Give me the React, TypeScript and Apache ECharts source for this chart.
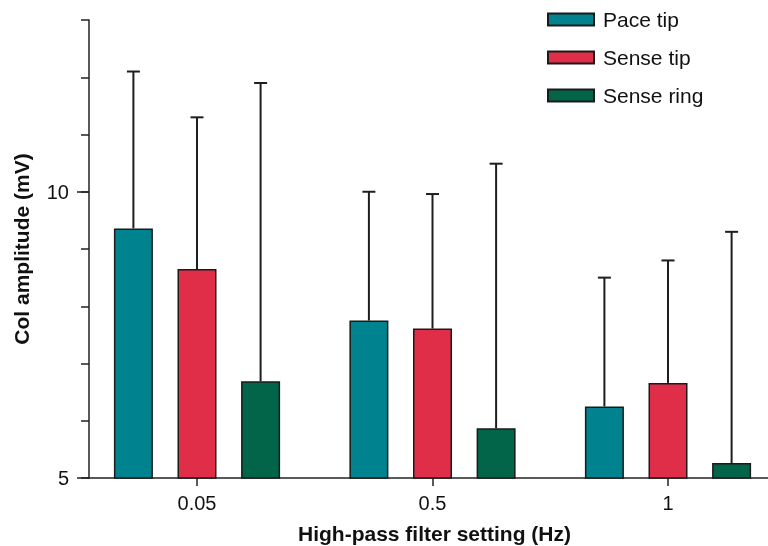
import React, { useEffect, useRef } from "react";
import * as echarts from "echarts";

const categories = ["0.05", "0.5", "1"];
const seriesNames = ["Pace tip", "Sense tip", "Sense ring"];
const paceTip = [9.36, 7.75, 6.25];
const senseTip = [8.65, 7.61, 6.66];
const senseRing = [6.69, 5.87, 5.26];
const paceTipUpper = [12.1, 10.0, 8.5];
const senseTipUpper = [11.3, 9.96, 8.8];
const senseRingUpper = [11.9, 10.49, 9.3];
const yTickLabels = [5, 10];

const colors = ["#00838f", "#e02d48", "#02654a"];
const FONT = "'Liberation Sans', Arial, Helvetica, sans-serif";
const BAR_WIDTH = 39;
const BAR_GAP_PX = 24.6;

export default function App() {
  const ref = useRef<HTMLDivElement>(null);
  useEffect(() => {
    if (!ref.current) return;
    const chart = echarts.init(ref.current, undefined, { renderer: "svg" });
    const values = [paceTip, senseTip, senseRing];
    const uppers = [paceTipUpper, senseTipUpper, senseRingUpper];
    const step = BAR_WIDTH + BAR_GAP_PX;

    const barSeries = seriesNames.map((name, i) => ({
      name,
      type: "bar",
      xAxisIndex: 0,
      yAxisIndex: 0,
      barWidth: BAR_WIDTH,
      barGap: (BAR_GAP_PX / BAR_WIDTH) * 100 + "%",
      data: values[i].map((v, j) => [j, v]),
      itemStyle: { color: colors[i], borderColor: "#1a1a1a", borderWidth: 1.5 },
      z: 3,
    }));

    const errSeries = seriesNames.map((name, i) => ({
      name: name + " error",
      type: "custom",
      xAxisIndex: 0,
      yAxisIndex: 0,
      data: values[i].map((v, j) => [j, v, uppers[i][j]]),
      z: 2,
      renderItem: (params: any, api: any) => {
        const x = api.value(0);
        const lo = api.coord([x, api.value(1)]);
        const hi = api.coord([x, api.value(2)]);
        const px = lo[0] + (i - 1) * step;
        const st = { stroke: "#1e1e1e", lineWidth: 2 };
        return {
          type: "group",
          children: [
            { type: "line", shape: { x1: px, y1: lo[1], x2: px, y2: hi[1] }, style: st },
            { type: "line", shape: { x1: px - 6.5, y1: hi[1], x2: px + 6.5, y2: hi[1] }, style: st },
          ],
        };
      },
    }));

    chart.setOption({
      animation: false,
      textStyle: { fontFamily: FONT },
      grid: { left: 89, right: 0, top: 20, bottom: 68, containLabel: false, outerBoundsMode: "none" },
      legend: {
        data: seriesNames,
        orient: "vertical",
        left: 542,
        top: 4,
        itemWidth: 46,
        itemHeight: 12,
        itemGap: 17,
        icon: "rect",
        textStyle: { fontSize: 21, color: "#111", fontFamily: FONT, padding: [0, 0, 0, 4] },
      },
      xAxis: {
        type: "value",
        min: -0.4586,
        max: 2.4246,
        splitLine: { show: false },
        axisLine: { show: true, onZero: false, lineStyle: { color: "#222", width: 1.5 } },
        axisTick: { show: true, customValues: [0, 1, 2], length: 8, lineStyle: { color: "#222", width: 1.5 } },
        axisLabel: {
          customValues: [0, 1, 2],
          formatter: (v: number) => categories[Math.round(v)] ?? "",
          fontSize: 20,
          color: "#111",
          margin: 15,
          fontFamily: FONT,
        },
        name: "High-pass filter setting (Hz)",
        nameLocation: "middle",
        nameGap: 45,
        nameTextStyle: { fontSize: 21, fontWeight: "bold", color: "#111", fontFamily: FONT, padding: [0, 0, 0, 12] },
      },
      yAxis: [
        {
          type: "value",
          position: "left",
          min: 5,
          max: 13,
          interval: 1,
          splitLine: { show: false },
          axisLine: { show: true, onZero: false, lineStyle: { color: "#222", width: 1.5 } },
          axisTick: { show: true, length: 8, lineStyle: { color: "#222", width: 1.5 } },
          axisLabel: {
            customValues: yTickLabels,
            fontSize: 20,
            color: "#111",
            margin: 20,
            fontFamily: FONT,
          },
          name: "Col amplitude (mV)",
          nameLocation: "middle",
          nameGap: 57,
          nameTextStyle: { fontSize: 21, fontWeight: "bold", color: "#111", fontFamily: FONT },
        },
        {
          type: "value",
          position: "left",
          offset: 0,
          min: 5,
          max: 13,
          splitLine: { show: false },
          axisLine: { show: false, onZero: false },
          axisLabel: { show: false },
          axisTick: { show: true, customValues: yTickLabels, length: 12, lineStyle: { color: "#222", width: 1.5 } },
        },
      ],
      series: [...errSeries, ...barSeries],
    });
    return () => chart.dispose();
  }, []);
  return (
    <div
      ref={ref}
      style={{ position: "fixed", left: 0, top: 0, width: 768, height: 546 }}
    />
  );
}
